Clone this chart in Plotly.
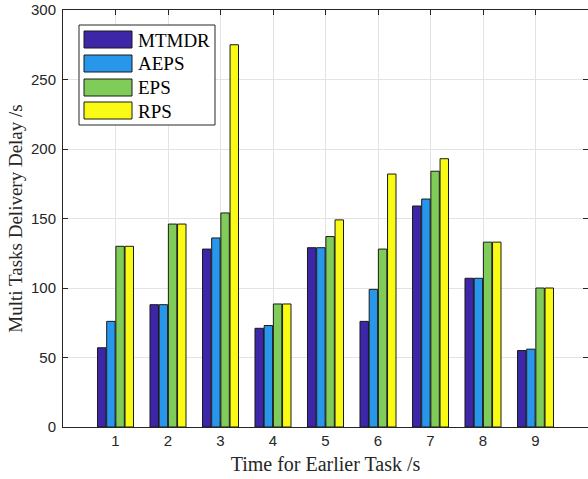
import plotly.graph_objects as go

categories = [1, 2, 3, 4, 5, 6, 7, 8, 9]
series_names = ["MTMDR", "AEPS", "EPS", "RPS"]
mtmdr = [57, 88, 128, 71, 129, 76, 159, 107, 55]
aeps = [76, 88, 136, 73, 129, 99, 164, 107, 56]
eps = [130, 146, 154, 88.5, 137, 128, 184, 133, 100]
rps = [130, 146, 275, 88.5, 149, 182, 193, 133, 100]
series_values = [mtmdr, aeps, eps, rps]
colors = ["#3E26A8", "#2796EB", "#80CC59", "#F9FB15"]
y_ticks = [0, 50, 100, 150, 200, 250, 300]

W, H = 588, 479
ML, MR, MT, MB = 63, 0, 10, 52
PW, PH = W - ML - MR, H - MT - MB

fig = go.Figure()
for name, vals, c in zip(series_names, series_values, colors):
    fig.add_trace(go.Bar(
        x=categories, y=vals, name=name,
        marker=dict(color=c, line=dict(color="#1a1a1a", width=1)),
        showlegend=False,
    ))

axis_common = dict(
    showline=True, linecolor="#262626", linewidth=1, mirror="ticks",
    ticks="inside", ticklen=5, tickcolor="#262626",
    showgrid=True, gridcolor="#E3E3E3", gridwidth=1, zeroline=False,
    tickfont=dict(family="Liberation Sans, Arial", size=15, color="#262626"),
)

fig.update_layout(
    width=W, height=H,
    margin=dict(l=ML, r=MR, t=MT, b=MB),
    paper_bgcolor="white", plot_bgcolor="white",
    barmode="group", bargap=0.3, bargroupgap=0.08,
    xaxis=dict(range=[0, 10], tickvals=categories, ticktext=[str(c) for c in categories],
               title=dict(text="Time for Earlier Task /s", standoff=8,
                          font=dict(family="Liberation Serif, Times New Roman", size=20, color="#262626")),
               **axis_common),
    yaxis=dict(range=[0, 300], tickvals=y_ticks, ticklabelstandoff=3,
               title=dict(text="Multi Tasks Delivery Delay /s", standoff=3,
                          font=dict(family="Liberation Serif, Times New Roman", size=19, color="#262626")),
               **axis_common),
)

def px2paper(x, y):
    return (x - ML) / PW, (H - MB - y) / PH

shapes = []
annotations = []
# legend box
x0, y0 = px2paper(79, 25)
x1, y1 = px2paper(215, 125)
shapes.append(dict(type="rect", xref="paper", yref="paper", x0=x0, y0=y1, x1=x1, y1=y0,
                   line=dict(color="#262626", width=1), fillcolor="white", layer="above"))
rows = [31, 55, 79, 102]
for name, c, ry in zip(series_names, colors, rows):
    a0, b0 = px2paper(84, ry)
    a1, b1 = px2paper(132, ry + 17)
    shapes.append(dict(type="rect", xref="paper", yref="paper", x0=a0, y0=b1, x1=a1, y1=b0,
                       line=dict(color="#1a1a1a", width=1), fillcolor=c, layer="above"))
    tx, ty = px2paper(136, ry + 9)
    annotations.append(dict(x=tx, y=ty, xref="paper", yref="paper", text=name, showarrow=False,
                            xanchor="left", yanchor="middle",
                            font=dict(family="Liberation Serif, Times New Roman", size=19, color="#000000")))
fig.update_layout(shapes=shapes, annotations=annotations)

fig.write_html("out.html")
